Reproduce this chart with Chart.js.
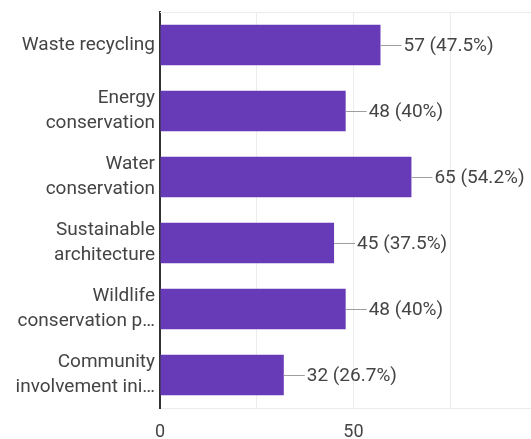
<!DOCTYPE html>
<html>
<head>
<meta charset="utf-8">
<script src="https://cdn.jsdelivr.net/npm/chart.js@4/dist/chart.umd.min.js"></script>
<style>
html,body{margin:0;padding:0;background:#fff;overflow:hidden;width:531px;height:439px;}
#wrap{position:absolute;left:0;top:0;width:576px;height:439px;}
</style>
</head>
<body>
<div id="wrap"><canvas id="c" width="576" height="439"></canvas></div>
<script>
const categories = [
  ["Waste recycling"],
  ["Energy", "conservation"],
  ["Water", "conservation"],
  ["Sustainable", "architecture"],
  ["Wildlife", "conservation p\u2026"],
  ["Community", "involvement ini\u2026"]
];
const counts = [57, 48, 65, 45, 48, 32];
const percentLabels = ["47.5%", "40%", "54.2%", "37.5%", "40%", "26.7%"];
const xTickLabels = [0, 50, 100];

const FONT = "Roboto, 'Noto Sans', sans-serif";
const TEXT = "#444444";

const topLinePlugin = {
  id: "topLine",
  beforeDatasetsDraw(chart) {
    const {ctx, chartArea} = chart;
    ctx.save();
    ctx.strokeStyle = "#ececec";
    ctx.lineWidth = 1;
    ctx.beginPath();
    ctx.moveTo(chartArea.left, chartArea.top + 0.5);
    ctx.lineTo(chartArea.right + 30, chartArea.top + 0.5);
    ctx.stroke();
    ctx.restore();
  }
};

const valueLabelPlugin = {
  id: "valueLabels",
  afterDatasetsDraw(chart) {
    const {ctx} = chart;
    const meta = chart.getDatasetMeta(0);
    ctx.save();
    ctx.font = "19px " + FONT;
    ctx.textBaseline = "middle";
    ctx.textAlign = "left";
    meta.data.forEach((bar, i) => {
      const x = bar.x, y = bar.y;
      ctx.strokeStyle = "#9e9e9e";
      ctx.lineWidth = 1;
      ctx.beginPath();
      ctx.moveTo(x, Math.round(y) + 0.5);
      ctx.lineTo(x + 21, Math.round(y) + 0.5);
      ctx.stroke();
      ctx.fillStyle = TEXT;
      ctx.fillText(counts[i] + " (" + percentLabels[i] + ")", x + 23, y + 1);
    });
    ctx.restore();
  }
};

new Chart(document.getElementById("c"), {
  type: "bar",
  data: {
    labels: categories,
    datasets: [{
      data: counts,
      backgroundColor: "#673ab7",
      borderWidth: 0,
      barPercentage: 0.61,
      categoryPercentage: 1.0
    }]
  },
  options: {
    indexAxis: "y",
    responsive: false,
    animation: false,
    devicePixelRatio: 1,
    layout: { padding: { top: 12, left: 0, right: 0, bottom: 0 } },
    plugins: { legend: { display: false }, tooltip: { enabled: false } },
    scales: {
      x: {
        min: 0, max: 100,
        afterFit(scale) { scale.height = 31; scale.paddingBottom = 0; },
        ticks: {
          stepSize: 25,
          autoSkip: false,
          maxRotation: 0,
          color: TEXT,
          font: { family: FONT, size: 18 },
          padding: 14,
          callback: (v) => xTickLabels.includes(v) ? String(v) : ""
        },
        grid: { color: "#ececec", drawTicks: false, lineWidth: 1 },
        border: { display: true, color: "#ececec", width: 1 }
      },
      y: {
        afterFit(scale) { scale.width = 160; scale.paddingTop = 0; scale.paddingBottom = 0; },
        ticks: {
          color: TEXT,
          font: { family: FONT, size: 19, lineHeight: 1.32 },
          padding: 5
        },
        grid: { display: false, drawTicks: false },
        border: { display: true, color: "#333333", width: 2 }
      }
    }
  },
  plugins: [topLinePlugin, valueLabelPlugin]
});
</script>
</body>
</html>
